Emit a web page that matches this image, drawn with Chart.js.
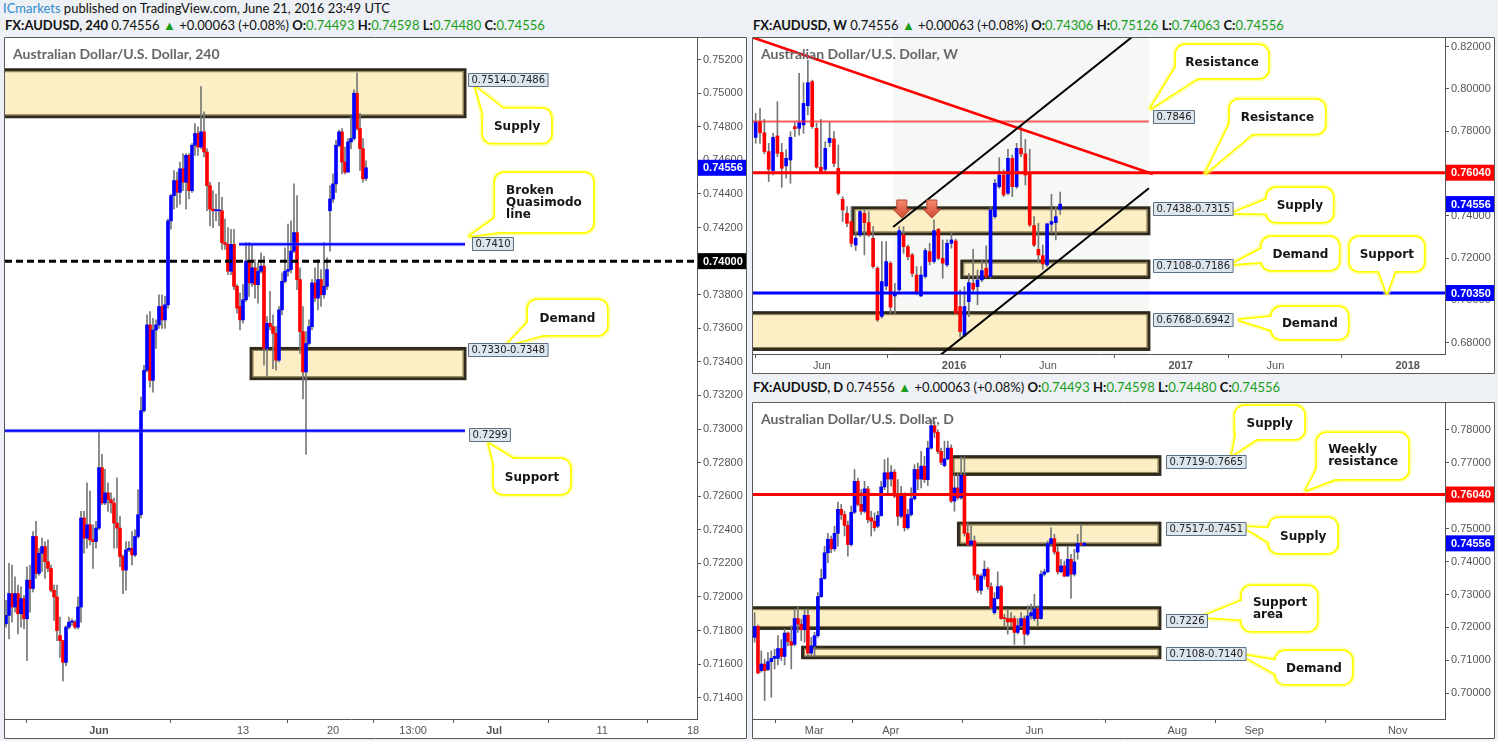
<!DOCTYPE html>
<html>
<head>
<meta charset="utf-8">
<title>AUDUSD</title>
<script src="https://cdn.jsdelivr.net/npm/chart.js@4.4.1/dist/chart.umd.min.js"></script>
<style>
  body { margin:0; width:1498px; height:741px; background:#edf0f4; position:relative; overflow:hidden; font-family:Lato, "Open Sans", sans-serif; }
  .hdr { position:absolute; white-space:nowrap; font-size:13px; line-height:16px; color:#111; }
  .hdr b { font-weight:700; }
  .g { color:#1a9e1a; }
  canvas { position:absolute; background:#fff; }
</style>
</head>
<body>
<div class="hdr" style="left:3px;top:0px"><span style="color:#2d8bd0">ICmarkets</span> published on TradingView.com, June 21, 2016 23:49 UTC</div>
<div class="hdr" style="left:5px;top:17px"><b>FX:AUDUSD, 240</b>&nbsp;0.74556 <span class="g">&#9650;</span> +0.00063 (+0.08%) <b>O:</b><span class="g">0.74493</span> <b>H:</b><span class="g">0.74598</span> <b>L:</b><span class="g">0.74480</span> <b>C:</b><span class="g">0.74556</span></div>
<div class="hdr" style="left:753px;top:17px"><b>FX:AUDUSD, W</b>&nbsp;0.74556 <span class="g">&#9650;</span> +0.00063 (+0.08%) <b>O:</b><span class="g">0.74306</span> <b>H:</b><span class="g">0.75126</span> <b>L:</b><span class="g">0.74063</span> <b>C:</b><span class="g">0.74556</span></div>
<div class="hdr" style="left:753px;top:379px"><b>FX:AUDUSD, D</b>&nbsp;0.74556 <span class="g">&#9650;</span> +0.00063 (+0.08%) <b>O:</b><span class="g">0.74493</span> <b>H:</b><span class="g">0.74598</span> <b>L:</b><span class="g">0.74480</span> <b>C:</b><span class="g">0.74556</span></div>

<canvas id="h4" width="743" height="702" style="left:4px;top:37px;width:743px;height:702px"></canvas>
<canvas id="wk" width="743" height="337" style="left:752px;top:37px;width:743px;height:337px"></canvas>
<canvas id="dy" width="743" height="337" style="left:752px;top:402px;width:743px;height:337px"></canvas>

<script>
// candles are [open, high, low, close]
const h4Candles = [
  [0.7184,0.7198,0.7182,0.7189],[0.7189,0.7220,0.7175,0.7202],[0.7202,0.7219,0.7185,0.7194],[0.7194,0.7212,0.7191,0.7202],
  [0.7202,0.7207,0.7178,0.7190],[0.7190,0.7206,0.7182,0.7199],[0.7199,0.7201,0.7181,0.7187],[0.7187,0.7218,0.7162,0.7210],
  [0.7210,0.7219,0.7191,0.7205],[0.7205,0.7239,0.7203,0.7236],[0.7236,0.7245,0.7211,0.7214],[0.7214,0.7229,0.7213,0.7226],
  [0.7226,0.7235,0.7215,0.7230],[0.7230,0.7233,0.7211,0.7221],[0.7221,0.7234,0.7215,0.7217],[0.7217,0.7219,0.7203,0.7204],
  [0.7204,0.7207,0.7186,0.7200],[0.7200,0.7207,0.7174,0.7180],[0.7177,0.7188,0.7164,0.7174],[0.7174,0.7174,0.7150,0.7161],
  [0.7161,0.7183,0.7159,0.7182],[0.7182,0.7188,0.7181,0.7185],[0.7185,0.7187,0.7183,0.7185],[0.7185,0.7186,0.7181,0.7182],
  [0.7182,0.7200,0.7181,0.7194],[0.7194,0.7251,0.7185,0.7247],[0.7247,0.7251,0.7226,0.7235],[0.7235,0.7268,0.7229,0.7243],
  [0.7243,0.7263,0.7231,0.7234],[0.7234,0.7243,0.7217,0.7233],[0.7233,0.7245,0.7229,0.7241],[0.7241,0.7299,0.7240,0.7277],
  [0.7277,0.7285,0.7255,0.7256],[0.7256,0.7276,0.7255,0.7262],[0.7262,0.7268,0.7251,0.7258],[0.7258,0.7262,0.7250,0.7256],
  [0.7256,0.7259,0.7229,0.7244],[0.7244,0.7271,0.7229,0.7241],[0.7241,0.7248,0.7218,0.7224],[0.7224,0.7225,0.7202,0.7216],
  [0.7216,0.7233,0.7204,0.7228],[0.7228,0.7233,0.7227,0.7229],[0.7229,0.7239,0.7219,0.7225],[0.7225,0.7240,0.7224,0.7236],
  [0.7236,0.7264,0.7235,0.7249],[0.7249,0.7319,0.7247,0.7311],[0.7311,0.7338,0.7310,0.7335],[0.7335,0.7368,0.7334,0.7362],
  [0.7362,0.7370,0.7325,0.7329],[0.7329,0.7366,0.7322,0.7359],[0.7359,0.7365,0.7348,0.7362],[0.7362,0.7380,0.7360,0.7373],
  [0.7373,0.7380,0.7360,0.7365],[0.7365,0.7379,0.7360,0.7374],[0.7374,0.7425,0.7372,0.7424],[0.7424,0.7440,0.7419,0.7439],
  [0.7439,0.7454,0.7431,0.7448],[0.7448,0.7453,0.7432,0.7441],[0.7441,0.7459,0.7434,0.7455],[0.7455,0.7464,0.7442,0.7447],
  [0.7447,0.7464,0.7431,0.7463],[0.7463,0.7464,0.7437,0.7442],[0.7442,0.7470,0.7441,0.7469],[0.7469,0.7482,0.7463,0.7476],
  [0.7476,0.7480,0.7463,0.7468],[0.7468,0.7504,0.7467,0.7477],[0.7477,0.7489,0.7462,0.7465],[0.7465,0.7467,0.7430,0.7445],
  [0.7445,0.7447,0.7421,0.7431],[0.7431,0.7442,0.7420,0.7430],[0.7430,0.7440,0.7424,0.7430],[0.7430,0.7447,0.7421,0.7430],
  [0.7430,0.7438,0.7407,0.7411],[0.7411,0.7425,0.7407,0.7410],[0.7410,0.7420,0.7392,0.7394],[0.7394,0.7419,0.7392,0.7410],
  [0.7410,0.7419,0.7383,0.7385],[0.7385,0.7386,0.7369,0.7372],[0.7373,0.7381,0.7359,0.7365],[0.7365,0.7386,0.7363,0.7377],
  [0.7377,0.7411,0.7376,0.7400],[0.7400,0.7411,0.7379,0.7387],[0.7387,0.7410,0.7385,0.7396],[0.7396,0.7401,0.7378,0.7386],
  [0.7386,0.7399,0.7375,0.7394],[0.7394,0.7405,0.7393,0.7397],[0.7397,0.7403,0.7338,0.7348],[0.7348,0.7367,0.7331,0.7363],
  [0.7363,0.7382,0.7359,0.7361],[0.7361,0.7368,0.7336,0.7357],[0.7357,0.7361,0.7335,0.7341],[0.7341,0.7373,0.7340,0.7371],
  [0.7371,0.7393,0.7368,0.7388],[0.7388,0.7408,0.7387,0.7394],[0.7394,0.7422,0.7391,0.7395],[0.7395,0.7424,0.7393,0.7406],
  [0.7406,0.7446,0.7405,0.7417],[0.7417,0.7439,0.7383,0.7389],[0.7389,0.7396,0.7345,0.7358],[0.7358,0.7373,0.7318,0.7334],
  [0.7334,0.7358,0.7285,0.7351],[0.7351,0.7365,0.7350,0.7361],[0.7361,0.7389,0.7359,0.7387],[0.7387,0.7396,0.7376,0.7378],
  [0.7378,0.7401,0.7371,0.7389],[0.7389,0.7395,0.7373,0.7380],[0.7380,0.7411,0.7378,0.7385],[0.7385,0.7402,0.7383,0.7395],
  [0.7430,0.7445,0.7406,0.7437],[0.7437,0.7452,0.7435,0.7446],[0.7446,0.7472,0.7441,0.7469],[0.7469,0.7478,0.7468,0.7477],
  [0.7477,0.7479,0.7452,0.7459],[0.7459,0.7468,0.7452,0.7453],[0.7453,0.7473,0.7453,0.7471],[0.7471,0.7486,0.7467,0.7473],
  [0.7473,0.7502,0.7472,0.7500],[0.7500,0.7512,0.7478,0.7479],[0.7479,0.7488,0.7454,0.7467],[0.7467,0.7473,0.7447,0.7449],
  [0.74493,0.74598,0.74480,0.74556]
];
const h4TickValues = [31, 79, 109, 135.7, 162.7, 198.7, 229];
const h4TickLabels = ['Jun', '13', '20', '13:00', 'Jul', '11', '18'];
const h4BoldTicks = ['Jun', 'Jul'];

const wkCandles = [
  [0.7771,0.7885,0.7743,0.7845],[0.7845,0.7908,0.7743,0.7793],[0.7793,0.7857,0.7693,0.7704],[0.7704,0.7743,0.7562,0.7620],
  [0.7614,0.7790,0.7593,0.7771],[0.7778,0.7940,0.7680,0.7696],[0.7700,0.7743,0.7535,0.7625],[0.7636,0.7712,0.7578,0.7672],
  [0.7664,0.7798,0.7554,0.7771],[0.7822,0.7841,0.7775,0.7812],[0.7814,0.8074,0.7782,0.7841],[0.7830,0.8030,0.7790,0.7932],
  [0.7921,0.8137,0.7877,0.8030],[0.8035,0.8042,0.7814,0.7822],[0.7814,0.7838,0.7625,0.7630],[0.7630,0.7857,0.7601,0.7609],
  [0.7620,0.7751,0.7609,0.7719],[0.7746,0.7845,0.7727,0.7767],[0.7764,0.7798,0.7633,0.7648],[0.7625,0.7735,0.7499,0.7507],
  [0.7478,0.7491,0.7373,0.7428],[0.7412,0.7444,0.7349,0.7365],[0.7373,0.7444,0.7254,0.7270],[0.7262,0.7318,0.7236,0.7294],
  [0.7310,0.7428,0.7302,0.7420],[0.7412,0.7428,0.7215,0.7368],[0.7368,0.7420,0.7302,0.7310],[0.7294,0.7349,0.7152,0.7160],
  [0.7152,0.7160,0.6900,0.6908],[0.6924,0.7278,0.6916,0.7089],[0.7068,0.7278,0.7050,0.7184],[0.7176,0.7184,0.6939,0.6968],
  [0.7021,0.7081,0.6939,0.7034],[0.7050,0.7349,0.7042,0.7330],[0.7310,0.7349,0.7223,0.7254],[0.7254,0.7262,0.7192,0.7207],
  [0.7215,0.7223,0.7113,0.7128],[0.7120,0.7160,0.7026,0.7034],[0.7021,0.7160,0.7018,0.7120],[0.7113,0.7247,0.7105,0.7236],
  [0.7231,0.7270,0.7168,0.7184],[0.7184,0.7381,0.7176,0.7330],[0.7336,0.7341,0.7192,0.7199],[0.7199,0.7286,0.7105,0.7176],
  [0.7168,0.7286,0.7160,0.7270],[0.7270,0.7325,0.7247,0.7286],[0.7281,0.7290,0.6935,0.6939],[0.6971,0.7050,0.6829,0.6853],
  [0.6832,0.7065,0.6829,0.6971],[0.6994,0.7128,0.6924,0.7084],[0.7081,0.7242,0.7042,0.7053],[0.7065,0.7144,0.6979,0.7097],
  [0.7097,0.7192,0.7089,0.7141],[0.7152,0.7258,0.7109,0.7113],[0.7113,0.7444,0.7105,0.7428],[0.7396,0.7573,0.7388,0.7554],
  [0.7538,0.7675,0.7530,0.7593],[0.7593,0.7617,0.7491,0.7499],[0.7507,0.7715,0.7499,0.7672],[0.7672,0.7688,0.7491,0.7538],
  [0.7538,0.7743,0.7530,0.7719],[0.7719,0.7830,0.7680,0.7693],[0.7693,0.7762,0.7546,0.7593],[0.7601,0.7715,0.7349,0.7357],
  [0.7354,0.7396,0.7254,0.7262],[0.7242,0.7365,0.7184,0.7215],[0.7212,0.7262,0.7147,0.7172],[0.7168,0.7365,0.7160,0.7362],
  [0.7360,0.7502,0.7318,0.7373],[0.7368,0.7444,0.7286,0.7396],[0.74306,0.75126,0.74063,0.74556]
];
const wkTickValues = [15.2, 45.6, 67.2, 97.7, 119.5, 149.9];
const wkTickLabels = ['Jun', '2016', 'Jun', '2017', 'Jun', '2018'];
const wkBoldTicks = ['2016', '2017', '2018'];

const dyCandles = [
  [0.7170,0.7245,0.7155,0.7203],[0.7203,0.7207,0.7059,0.7062],[0.7069,0.7129,0.7064,0.7089],[0.7089,0.7104,0.6978,0.7069],
  [0.7072,0.7124,0.7069,0.7096],[0.7096,0.7129,0.6988,0.7106],[0.7106,0.7134,0.7074,0.7112],[0.7106,0.7175,0.7086,0.7136],
  [0.7136,0.7163,0.7099,0.7112],[0.7112,0.7195,0.7086,0.7183],[0.7183,0.7187,0.7144,0.7157],[0.7157,0.7205,0.7074,0.7146],
  [0.7149,0.7256,0.7144,0.7227],[0.7227,0.7261,0.7185,0.7210],[0.7210,0.7225,0.7160,0.7193],[0.7193,0.7256,0.7155,0.7237],
  [0.7237,0.7256,0.7114,0.7122],[0.7122,0.7170,0.7114,0.7144],[0.7144,0.7185,0.7112,0.7175],[0.7175,0.7306,0.7170,0.7294],
  [0.7294,0.7377,0.7291,0.7349],[0.7349,0.7447,0.7346,0.7427],[0.7427,0.7486,0.7397,0.7468],[0.7468,0.7478,0.7427,0.7439],
  [0.7439,0.7508,0.7432,0.7486],[0.7486,0.7581,0.7447,0.7559],[0.7559,0.7574,0.7528,0.7543],[0.7543,0.7553,0.7478,0.7510],
  [0.7510,0.7523,0.7417,0.7452],[0.7452,0.7569,0.7447,0.7550],[0.7550,0.7680,0.7546,0.7644],[0.7644,0.7654,0.7569,0.7574],
  [0.7574,0.7619,0.7543,0.7553],[0.7553,0.7644,0.7548,0.7621],[0.7621,0.7629,0.7518,0.7528],[0.7533,0.7553,0.7478,0.7523],
  [0.7523,0.7548,0.7493,0.7503],[0.7508,0.7553,0.7503,0.7540],[0.7540,0.7644,0.7538,0.7627],[0.7627,0.7710,0.7619,0.7670],
  [0.7670,0.7715,0.7604,0.7651],[0.7651,0.7692,0.7629,0.7672],[0.7672,0.7680,0.7594,0.7599],[0.7599,0.7649,0.7510,0.7538],
  [0.7538,0.7629,0.7533,0.7599],[0.7599,0.7609,0.7493,0.7503],[0.7503,0.7559,0.7498,0.7543],[0.7543,0.7624,0.7538,0.7591],
  [0.7591,0.7695,0.7587,0.7680],[0.7680,0.7700,0.7619,0.7651],[0.7651,0.7735,0.7624,0.7690],[0.7690,0.7720,0.7640,0.7649],
  [0.7649,0.7766,0.7631,0.7745],[0.7745,0.7831,0.7742,0.7813],[0.7813,0.7826,0.7776,0.7793],[0.7793,0.7801,0.7728,0.7735],
  [0.7735,0.7745,0.7695,0.7702],[0.7692,0.7766,0.7688,0.7712],[0.7712,0.7766,0.7710,0.7745],[0.7745,0.7755,0.7579,0.7584],
  [0.7584,0.7665,0.7553,0.7624],[0.7624,0.7670,0.7589,0.7594],[0.7594,0.7718,0.7589,0.7662],[0.7662,0.7718,0.7478,0.7486],
  [0.7486,0.7518,0.7447,0.7452],[0.7452,0.7508,0.7447,0.7463],[0.7463,0.7478,0.7346,0.7359],[0.7359,0.7362,0.7306,0.7313],
  [0.7313,0.7362,0.7301,0.7356],[0.7356,0.7402,0.7346,0.7377],[0.7377,0.7382,0.7316,0.7324],[0.7324,0.7336,0.7256,0.7261],
  [0.7245,0.7306,0.7240,0.7288],[0.7288,0.7369,0.7286,0.7324],[0.7324,0.7328,0.7225,0.7227],[0.7230,0.7240,0.7205,0.7227],
  [0.7227,0.7256,0.7180,0.7217],[0.7227,0.7245,0.7205,0.7217],[0.7227,0.7235,0.7149,0.7185],[0.7185,0.7227,0.7180,0.7205],
  [0.7205,0.7245,0.7200,0.7227],[0.7227,0.7235,0.7149,0.7180],[0.7180,0.7266,0.7175,0.7235],[0.7235,0.7271,0.7225,0.7245],
  [0.7227,0.7301,0.7220,0.7256],[0.7256,0.7266,0.7205,0.7227],[0.7227,0.7372,0.7225,0.7362],[0.7362,0.7377,0.7356,0.7369],
  [0.7369,0.7463,0.7367,0.7455],[0.7455,0.7503,0.7447,0.7470],[0.7470,0.7483,0.7422,0.7429],[0.7429,0.7447,0.7362,0.7369],
  [0.7369,0.7407,0.7367,0.7387],[0.7387,0.7402,0.7354,0.7356],[0.7356,0.7447,0.7356,0.7407],[0.7407,0.7422,0.7288,0.7362],
  [0.7362,0.7437,0.7356,0.7399],[0.7429,0.7483,0.7407,0.7455],[0.7455,0.7513,0.7449,0.7452],[0.74493,0.74598,0.74480,0.74556]
];
const dyTickValues = [17.9, 40.9, 84, 126.9, 150, 193.1];
const dyTickLabels = ['Mar', 'Apr', 'Jun', 'Aug', 'Sep', 'Nov'];
const dyBoldTicks = [];

// annotations (x in candle index units, y in price)
const h4Notes = {
  title: 'Australian Dollar/U.S. Dollar, 240',
  zones: [
    { x0: -5, x1: 153, p0: 0.7486, p1: 0.7514 },
    { x0: 81.7, x1: 153, p0: 0.7330, p1: 0.7348 }
  ],
  lines: [
    { p: 0.7410, x0: 77.7, x1: 153, color: '#0000ff', w: 2, halo: 'rgba(80,80,255,0.45)' },
    { p: 0.7400, color: '#000000', w: 3, dash: [7, 4] },
    { p: 0.7299, x0: -5, x1: 153, color: '#0000ff', w: 2, halo: 'rgba(80,80,255,0.45)' }
  ],
  labels: [
    { k: 154, p: 0.7508, t: '0.7514-0.7486' },
    { k: 155.3, p: 0.7410, t: '0.7410' },
    { k: 154, p: 0.73468, t: '0.7330-0.7348' },
    { k: 154.3, p: 0.72965, t: '0.7299' }
  ],
  callouts: [
    { k: 156.7, p: 0.75032, dx: 7, dy: 21, w: 68, h: 34, tail: 'tl', lines: ['Supply'] },
    { k: 154.7, p: 0.74150, dx: 25, dy: -63, w: 98, h: 59, tail: 'bl', lines: ['Broken', 'Quasimodo', 'line'] },
    { k: 167, p: 0.73501, dx: 21, dy: -45, w: 79, h: 35, tail: 'bl', lines: ['Demand'] },
    { k: 161, p: 0.72911, dx: 5, dy: 15, w: 76, h: 35, tail: 'tl', lines: ['Support'] }
  ],
  badges: [
    { p: 0.74556, bg: '#0000ff', t: '0.74556' },
    { p: 0.74000, bg: '#000000', t: '0.74000' }
  ]
};

const wkNotes = {
  title: 'Australian Dollar/U.S. Dollar, W',
  shades: [{ x0: 31.6, x1: 90.4, color: '#f5f8f5' }],
  zones: [
    { x0: 22.4, x1: 90.4, p0: 0.7315, p1: 0.7438 },
    { x0: 47.4, x1: 90.4, p0: 0.7108, p1: 0.7186 },
    { x0: -5, x1: 90.4, p0: 0.6768, p1: 0.6942 }
  ],
  lines: [
    { p: 0.7846, x0: -5, x1: 90.4, color: 'rgba(255,40,40,0.75)', w: 2 },
    { p: 0.7604, color: '#ff0000', w: 3 },
    { p: 0.7035, color: '#0000ff', w: 3 }
  ],
  segs: [
    { k0: -2, p0: 0.8253, k1: 91.3, p1: 0.75979, color: '#ff0000', w: 2.5 },
    { k0: 31.6, p0: 0.73472, k1: 88, p1: 0.8270, color: '#000000', w: 2 },
    { k0: 42.0, p0: 0.6734, k1: 90.4, p1: 0.75303, color: '#000000', w: 2 }
  ],
  arrows: [{ k: 33.6, p: 0.73898 }, { k: 40.5, p: 0.73898 }],
  labels: [
    { k: 91.3, p: 0.78652, t: '0.7846' },
    { k: 91.3, p: 0.74324, t: '0.7438-0.7315' },
    { k: 91.3, p: 0.71627, t: '0.7108-0.7186' },
    { k: 91.3, p: 0.69073, t: '0.6768-0.6942' }
  ],
  callouts: [
    { k: 90.9, p: 0.79101, dx: 25, dy: -63, w: 92, h: 33, tail: 'bl', lines: ['Resistance'] },
    { k: 103.5, p: 0.7604, dx: 24, dy: -73, w: 95, h: 34, tail: 'bl', lines: ['Resistance'] },
    { k: 109.7, p: 0.74134, dx: 34, dy: -25, w: 66, h: 34, tail: 'l', lines: ['Supply'] },
    { k: 109.7, p: 0.71722, dx: 29, dy: -27, w: 77, h: 33, tail: 'l', lines: ['Demand'] },
    { k: 145.1, p: 0.7035, dx: -37, dy: -56, w: 74, h: 34, tail: 'b', lines: ['Support'] },
    { k: 111.3, p: 0.69073, dx: 32, dy: -13, w: 76, h: 32, tail: 'l', lines: ['Demand'] }
  ],
  badges: [
    { p: 0.7604, bg: '#ff0000', t: '0.76040' },
    { p: 0.74556, bg: '#0000ff', t: '0.74556' },
    { p: 0.7035, bg: '#0000ff', t: '0.70350' }
  ]
};

const dyNotes = {
  title: 'Australian Dollar/U.S. Dollar, D',
  zones: [
    { x0: 59.3, x1: 121.7, p0: 0.7665, p1: 0.7719 },
    { x0: 61.2, x1: 121.7, p0: 0.7451, p1: 0.7517 },
    { x0: -5, x1: 121.7, p0: 0.7197, p1: 0.7260 },
    { x0: 14.4, x1: 121.7, p0: 0.7108, p1: 0.7140 }
  ],
  lines: [{ p: 0.7604, color: '#ff0000', w: 3 }],
  labels: [
    { k: 123.4, p: 0.77028, t: '0.7719-0.7665' },
    { k: 123.4, p: 0.74992, t: '0.7517-0.7451' },
    { k: 123.4, p: 0.72196, t: '0.7226' },
    { k: 123.4, p: 0.71194, t: '0.7108-0.7140' }
  ],
  callouts: [
    { k: 143.4, p: 0.77240, dx: 3, dy: -49, w: 69, h: 33, tail: 'bl', lines: ['Supply'] },
    { k: 165.6, p: 0.76177, dx: 11, dy: -57, w: 91, h: 46, tail: 'bl', lines: ['Weekly', 'resistance'] },
    { k: 147.0, p: 0.75053, dx: 25, dy: -9, w: 68, h: 35, tail: 'l', lines: ['Supply'] },
    { k: 134.3, p: 0.72318, dx: 40, dy: -31, w: 75, h: 45, tail: 'l', lines: ['Support', 'area'] },
    { k: 146.3, p: 0.71163, dx: 34, dy: -4, w: 76, h: 33, tail: 'l', lines: ['Demand'] }
  ],
  badges: [
    { p: 0.7604, bg: '#ff0000', t: '0.76040' },
    { p: 0.74556, bg: '#0000ff', t: '0.74556' }
  ]
};

function candleSets(candles) {
  const up = [], down = [], wicks = [];
  candles.forEach((c, i) => {
    const [o, h, l, cl] = c;
    wicks.push({ x: i, y: [l, h] });
    (cl >= o ? up : down).push({ x: i, y: [o, cl] });
  });
  return [
    { data: up, backgroundColor: '#0000ff', barThickness: 3, minBarLength: 1, grouped: false, order: 1 },
    { data: down, backgroundColor: '#ff0000', barThickness: 3, minBarLength: 1, grouped: false, order: 1 },
    { data: wicks, backgroundColor: '#777777', barThickness: 1, grouped: false, order: 2 }
  ];
}

function roundRect(ctx, x, y, w, h, r) {
  ctx.beginPath();
  ctx.moveTo(x + r, y);
  ctx.arcTo(x + w, y, x + w, y + h, r);
  ctx.arcTo(x + w, y + h, x, y + h, r);
  ctx.arcTo(x, y + h, x, y, r);
  ctx.arcTo(x, y, x + w, y, r);
  ctx.closePath();
}

function drawCallout(ctx, c, tx, ty) {
  const bx = tx + c.dx, by = ty + c.dy, w = c.w, h = c.h;
  let b1, b2;
  if (c.tail === 'tl') { b1 = [bx + 24, by + 3]; b2 = [bx + 3, by + 16]; }
  else if (c.tail === 'bl') { b1 = [bx + 3, by + h - 16]; b2 = [bx + 26, by + h - 3]; }
  else if (c.tail === 'l') { b1 = [bx + 3, by + h * 0.3]; b2 = [bx + 3, by + h * 0.75]; }
  else { b1 = [bx + w / 2 - 9, by + h - 3]; b2 = [bx + w / 2 + 9, by + h - 3]; }
  const tri = () => { ctx.beginPath(); ctx.moveTo(b1[0], b1[1]); ctx.lineTo(tx, ty); ctx.lineTo(b2[0], b2[1]); ctx.closePath(); };
  const box = () => roundRect(ctx, bx, by, w, h, 9);
  ctx.lineJoin = 'round';
  [[7, 'rgba(255,255,110,0.45)'], [3.5, '#ffff00']].forEach(([lw, col]) => {
    ctx.lineWidth = lw; ctx.strokeStyle = col;
    tri(); ctx.stroke(); box(); ctx.stroke();
  });
  ctx.fillStyle = '#ffffff';
  box(); ctx.fill(); tri(); ctx.fill();
  ctx.fillStyle = '#151515';
  ctx.font = 'bold 12px "DejaVu Sans"';
  ctx.textBaseline = 'middle';
  if (c.lines.length === 1) {
    ctx.textAlign = 'center';
    ctx.fillText(c.lines[0], bx + w / 2, by + h / 2 + 1);
  } else {
    ctx.textAlign = 'left';
    const top = by + h / 2 - (c.lines.length - 1) * 6;
    c.lines.forEach((t, i) => ctx.fillText(t, bx + 11, top + i * 12));
  }
}

function drawArrow(ctx, x, y) {
  const g = ctx.createLinearGradient(0, y - 18, 0, y);
  g.addColorStop(0, '#f48a6e');
  g.addColorStop(1, '#cf4a30');
  ctx.beginPath();
  ctx.moveTo(x - 5, y - 18); ctx.lineTo(x + 5, y - 18); ctx.lineTo(x + 5, y - 9);
  ctx.lineTo(x + 9, y - 9); ctx.lineTo(x, y); ctx.lineTo(x - 9, y - 9); ctx.lineTo(x - 5, y - 9);
  ctx.closePath();
  ctx.fillStyle = g; ctx.fill();
  ctx.strokeStyle = '#b0432d'; ctx.lineWidth = 1; ctx.stroke();
}

function overlayPlugin(notes) {
  return {
    id: 'overlay',
    beforeDatasetsDraw(chart) {
      const { ctx, chartArea: ca } = chart;
      const sx = chart.scales.x, sy = chart.scales.y;
      ctx.save();
      ctx.beginPath(); ctx.rect(ca.left, ca.top, ca.width, ca.height); ctx.clip();
      (notes.shades || []).forEach(s => {
        const x0 = sx.getPixelForValue(s.x0), x1 = sx.getPixelForValue(s.x1);
        ctx.fillStyle = s.color;
        ctx.fillRect(x0, ca.top, x1 - x0, ca.height);
      });
      (notes.zones || []).forEach(z => {
        const x0 = sx.getPixelForValue(z.x0), x1 = sx.getPixelForValue(z.x1);
        const y0 = sy.getPixelForValue(z.p1), y1 = sy.getPixelForValue(z.p0);
        ctx.fillStyle = '#fcefc6';
        ctx.fillRect(x0, y0, x1 - x0, y1 - y0);
        ctx.lineWidth = 3; ctx.strokeStyle = '#2f2a1c';
        ctx.strokeRect(x0, y0, x1 - x0, y1 - y0);
        ctx.lineWidth = 1; ctx.strokeStyle = '#8a7a4c';
        ctx.strokeRect(x0 + 2, y0 + 2, x1 - x0 - 4, y1 - y0 - 4);
      });
      ctx.restore();
    },
    afterDatasetsDraw(chart) {
      const { ctx, chartArea: ca } = chart;
      const sx = chart.scales.x, sy = chart.scales.y;
      ctx.save();
      ctx.beginPath(); ctx.rect(ca.left, ca.top, ca.width, ca.height); ctx.clip();
      (notes.lines || []).forEach(l => {
        const y = sy.getPixelForValue(l.p);
        const x0 = l.x0 == null ? ca.left : sx.getPixelForValue(l.x0);
        const x1 = l.x1 == null ? ca.right : sx.getPixelForValue(l.x1);
        if (l.halo) {
          ctx.setLineDash([]); ctx.strokeStyle = l.halo; ctx.lineWidth = l.w + 2;
          ctx.beginPath(); ctx.moveTo(x0, y); ctx.lineTo(x1, y); ctx.stroke();
        }
        ctx.setLineDash(l.dash || []);
        ctx.strokeStyle = l.color; ctx.lineWidth = l.w;
        ctx.beginPath(); ctx.moveTo(x0, y); ctx.lineTo(x1, y); ctx.stroke();
      });
      ctx.setLineDash([]);
      (notes.segs || []).forEach(s => {
        ctx.strokeStyle = s.color; ctx.lineWidth = s.w;
        ctx.beginPath();
        ctx.moveTo(sx.getPixelForValue(s.k0), sy.getPixelForValue(s.p0));
        ctx.lineTo(sx.getPixelForValue(s.k1), sy.getPixelForValue(s.p1));
        ctx.stroke();
      });
      (notes.arrows || []).forEach(a => drawArrow(ctx, sx.getPixelForValue(a.k), sy.getPixelForValue(a.p)));
      ctx.restore();
    },
    afterDraw(chart) {
      const { ctx, chartArea: ca } = chart;
      const sx = chart.scales.x, sy = chart.scales.y;
      ctx.save();
      // chart title
      ctx.font = 'bold 14px Lato';
      ctx.fillStyle = '#666666';
      ctx.textAlign = 'left'; ctx.textBaseline = 'middle';
      ctx.fillText(notes.title, ca.left + 8, ca.top + 16);
      (notes.callouts || []).forEach(c => drawCallout(ctx, c, sx.getPixelForValue(c.k), sy.getPixelForValue(c.p)));
      // price labels
      ctx.font = '10px "DejaVu Sans"';
      (notes.labels || []).forEach(l => {
        const x = Math.round(sx.getPixelForValue(l.k)) + 0.5;
        const y = Math.round(sy.getPixelForValue(l.p));
        const tw = ctx.measureText(l.t).width;
        ctx.fillStyle = '#dde5ed';
        ctx.fillRect(x, y - 6.5, tw + 6, 13);
        ctx.strokeStyle = '#5d7185'; ctx.lineWidth = 1;
        ctx.strokeRect(x, y - 6.5, tw + 6, 13);
        ctx.fillStyle = '#222222';
        ctx.textAlign = 'left'; ctx.textBaseline = 'middle';
        ctx.fillText(l.t, x + 3, y + 0.5);
      });
      // axis badges
      ctx.font = 'bold 11px "Liberation Sans"';
      (notes.badges || []).forEach(b => {
        const y = sy.getPixelForValue(b.p);
        ctx.fillStyle = b.bg;
        ctx.fillRect(ca.right + 1, y - 8, 48, 16);
        ctx.fillStyle = '#ffffff';
        ctx.textAlign = 'left'; ctx.textBaseline = 'middle';
        ctx.fillText(b.t, ca.right + 6, y + 0.5);
      });
      // panel frame
      ctx.strokeStyle = '#5a5a5a'; ctx.lineWidth = 1;
      ctx.strokeRect(0.5, 0.5, chart.width - 1, chart.height - 1);
      ctx.restore();
    }
  };
}

function makeChart(id, candles, notes, xr, yr, ticks) {
  new Chart(document.getElementById(id), {
    type: 'bar',
    data: { datasets: candleSets(candles) },
    options: {
      responsive: false,
      animation: false,
      events: [],
      layout: { padding: { left: 1, top: 1, right: 1, bottom: 1 } },
      plugins: { legend: { display: false }, tooltip: { enabled: false } },
      scales: {
        x: {
          type: 'linear', min: xr[0], max: xr[1], offset: false,
          grid: { drawOnChartArea: false, color: '#555555', tickLength: 4 },
          border: { color: '#555555' },
          afterBuildTicks: s => { s.ticks = ticks.values.map(v => ({ value: v })); },
          afterFit: s => { s.height = 19; s.paddingLeft = 0; s.paddingRight = 0; },
          ticks: {
            autoSkip: false, maxRotation: 0, padding: 1, color: '#555555',
            font: ctx => ({ family: 'Liberation Sans', size: 11,
              weight: ticks.bold.includes(ticks.labels[ctx.index]) ? 'bold' : 'normal' }),
            callback: (v, i) => ticks.labels[i]
          }
        },
        y: {
          position: 'right', min: yr[0], max: yr[1],
          grid: { drawOnChartArea: false, color: '#555555', tickLength: 4 },
          border: { color: '#555555' },
          afterFit: s => { s.width = 49; s.paddingTop = 0; s.paddingBottom = 0; },
          ticks: {
            stepSize: yr[2], includeBounds: false, maxTicksLimit: 100, autoSkip: false,
            padding: 2, color: '#555555', font: { family: 'Liberation Sans', size: 11 },
            callback: v => v.toFixed(5)
          }
        }
      }
    },
    plugins: [overlayPlugin(notes)]
  });
}

makeChart('h4', h4Candles, h4Notes, [-0.33, 230.33], [0.71273, 0.75329, 0.002],
  { values: h4TickValues, labels: h4TickLabels, bold: h4BoldTicks });
makeChart('wk', wkCandles, wkNotes, [-0.61, 158.47], [0.67465, 0.82412, 0.02],
  { values: wkTickValues, labels: wkTickLabels, bold: wkBoldTicks });
makeChart('dy', dyCandles, dyNotes, [-0.49, 207.3], [0.69219, 0.78820, 0.01],
  { values: dyTickValues, labels: dyTickLabels, bold: dyBoldTicks });
</script>
</body>
</html>
